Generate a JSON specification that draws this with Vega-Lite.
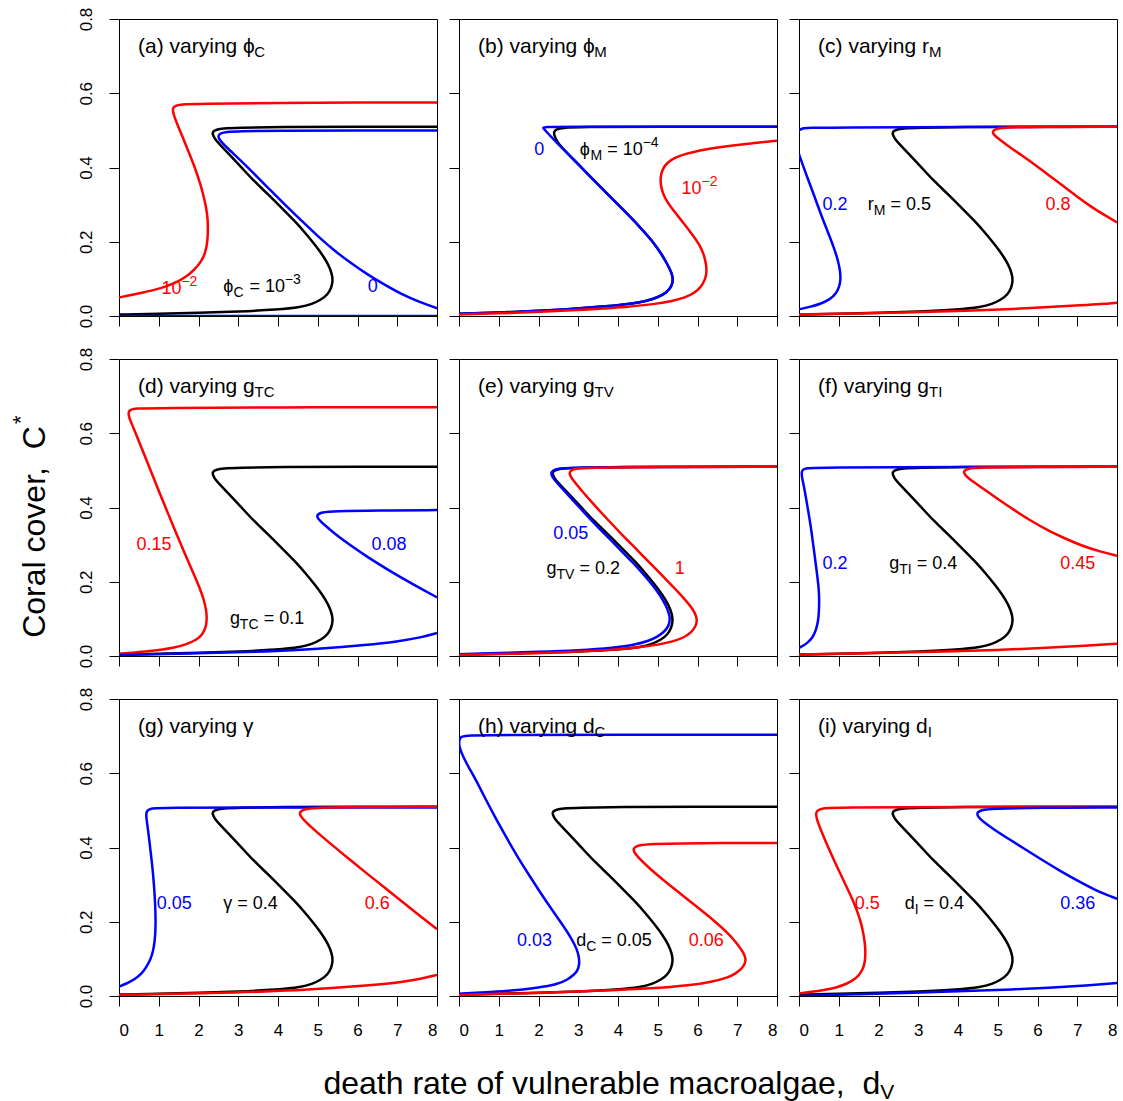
{
"$schema": "https://vega.github.io/schema/vega-lite/v6.json",
"padding": {"left": 9, "top": 6, "right": 0, "bottom": 0},
"background": "white",
"datasets": {
"base": [{"x":8,"y":0.51},{"x":6,"y":0.51},{"x":4,"y":0.509},{"x":3,"y":0.507},{"x":2.6,"y":0.505},{"x":2.45,"y":0.502},{"x":2.36,"y":0.497},{"x":2.35,"y":0.49},{"x":2.42,"y":0.475},{"x":2.6,"y":0.455},{"x":2.85,"y":0.427},{"x":3.1,"y":0.398},{"x":3.4,"y":0.363},{"x":3.75,"y":0.328},{"x":4.1,"y":0.29},{"x":4.42,"y":0.256},{"x":4.7,"y":0.222},{"x":4.92,"y":0.193},{"x":5.12,"y":0.165},{"x":5.27,"y":0.138},{"x":5.36,"y":0.113},{"x":5.38,"y":0.094},{"x":5.34,"y":0.075},{"x":5.25,"y":0.058},{"x":5.09,"y":0.044},{"x":4.85,"y":0.032},{"x":4.59,"y":0.024},{"x":4.0,"y":0.017},{"x":3.0,"y":0.012},{"x":2.0,"y":0.009},{"x":1.0,"y":0.006},{"x":0,"y":0.004}],
"a": [
{"s":"r","c":"red","x":8,"y":0.575},{"s":"r","c":"red","x":6,"y":0.575},{"s":"r","c":"red","x":4,"y":0.574},{"s":"r","c":"red","x":2,"y":0.572},{"s":"r","c":"red","x":1.55,"y":0.57},{"s":"r","c":"red","x":1.4,"y":0.566},{"s":"r","c":"red","x":1.34,"y":0.558},{"s":"r","c":"red","x":1.38,"y":0.54},{"s":"r","c":"red","x":1.47,"y":0.515},{"s":"r","c":"red","x":1.57,"y":0.49},{"s":"r","c":"red","x":1.74,"y":0.445},{"s":"r","c":"red","x":1.91,"y":0.4},{"s":"r","c":"red","x":2.05,"y":0.355},{"s":"r","c":"red","x":2.16,"y":0.31},{"s":"r","c":"red","x":2.22,"y":0.275},{"s":"r","c":"red","x":2.24,"y":0.245},{"s":"r","c":"red","x":2.23,"y":0.2},{"s":"r","c":"red","x":2.17,"y":0.17},{"s":"r","c":"red","x":2.08,"y":0.148},{"s":"r","c":"red","x":1.9,"y":0.125},{"s":"r","c":"red","x":1.66,"y":0.103},{"s":"r","c":"red","x":1.4,"y":0.088},{"s":"r","c":"red","x":1.07,"y":0.075},{"s":"r","c":"red","x":0.6,"y":0.063},{"s":"r","c":"red","x":0,"y":0.05},
{"s":"b","c":"blue","x":8,"y":0.5},{"s":"b","c":"blue","x":6,"y":0.5},{"s":"b","c":"blue","x":4,"y":0.499},{"s":"b","c":"blue","x":3,"y":0.498},{"s":"b","c":"blue","x":2.7,"y":0.496},{"s":"b","c":"blue","x":2.55,"y":0.492},{"s":"b","c":"blue","x":2.49,"y":0.486},{"s":"b","c":"blue","x":2.52,"y":0.475},{"s":"b","c":"blue","x":2.7,"y":0.455},{"s":"b","c":"blue","x":3.05,"y":0.42},{"s":"b","c":"blue","x":3.4,"y":0.383},{"s":"b","c":"blue","x":3.8,"y":0.34},{"s":"b","c":"blue","x":4.2,"y":0.297},{"s":"b","c":"blue","x":4.6,"y":0.256},{"s":"b","c":"blue","x":5,"y":0.215},{"s":"b","c":"blue","x":5.42,"y":0.176},{"s":"b","c":"blue","x":5.85,"y":0.141},{"s":"b","c":"blue","x":6.26,"y":0.111},{"s":"b","c":"blue","x":6.7,"y":0.083},{"s":"b","c":"blue","x":7.1,"y":0.059},{"s":"b","c":"blue","x":7.55,"y":0.038},{"s":"b","c":"blue","x":8,"y":0.021},
{"s":"b0","c":"blue","x":0,"y":0},{"s":"b0","c":"blue","x":8,"y":0}],
"b": [
{"s":"k","c":"black","x":8,"y":0.51},{"s":"k","c":"black","x":5,"y":0.51},{"s":"k","c":"black","x":3,"y":0.509},{"s":"k","c":"black","x":2.6,"y":0.507},{"s":"k","c":"black","x":2.45,"y":0.503},{"s":"k","c":"black","x":2.38,"y":0.496},{"s":"k","c":"black","x":2.4,"y":0.485},{"s":"k","c":"black","x":2.48,"y":0.466},{"s":"k","c":"black","x":2.75,"y":0.436},{"s":"k","c":"black","x":3.08,"y":0.4},{"s":"k","c":"black","x":3.41,"y":0.364},{"s":"k","c":"black","x":3.77,"y":0.325},{"s":"k","c":"black","x":4.17,"y":0.282},{"s":"k","c":"black","x":4.55,"y":0.24},{"s":"k","c":"black","x":4.85,"y":0.204},{"s":"k","c":"black","x":5.09,"y":0.168},{"s":"k","c":"black","x":5.25,"y":0.138},{"s":"k","c":"black","x":5.35,"y":0.116},{"s":"k","c":"black","x":5.39,"y":0.099},{"s":"k","c":"black","x":5.35,"y":0.079},{"s":"k","c":"black","x":5.22,"y":0.063},{"s":"k","c":"black","x":5.0,"y":0.05},{"s":"k","c":"black","x":4.7,"y":0.04},{"s":"k","c":"black","x":4.35,"y":0.033},{"s":"k","c":"black","x":3.7,"y":0.026},{"s":"k","c":"black","x":2.91,"y":0.019},{"s":"k","c":"black","x":2,"y":0.014},{"s":"k","c":"black","x":1,"y":0.009},{"s":"k","c":"black","x":0,"y":0.006},
{"s":"b","c":"blue","x":8,"y":0.51},{"s":"b","c":"blue","x":2.1,"y":0.51},{"s":"b","c":"blue","x":2.08,"y":0.51},{"s":"b","c":"blue","x":2.41,"y":0.472},{"s":"b","c":"blue","x":2.75,"y":0.436},{"s":"b","c":"blue","x":3.08,"y":0.4},{"s":"b","c":"blue","x":3.41,"y":0.364},{"s":"b","c":"blue","x":3.77,"y":0.325},{"s":"b","c":"blue","x":4.17,"y":0.282},{"s":"b","c":"blue","x":4.55,"y":0.24},{"s":"b","c":"blue","x":4.85,"y":0.204},{"s":"b","c":"blue","x":5.09,"y":0.168},{"s":"b","c":"blue","x":5.25,"y":0.138},{"s":"b","c":"blue","x":5.35,"y":0.116},{"s":"b","c":"blue","x":5.39,"y":0.099},{"s":"b","c":"blue","x":5.35,"y":0.079},{"s":"b","c":"blue","x":5.22,"y":0.063},{"s":"b","c":"blue","x":5.0,"y":0.05},{"s":"b","c":"blue","x":4.7,"y":0.04},{"s":"b","c":"blue","x":4.35,"y":0.033},{"s":"b","c":"blue","x":3.7,"y":0.026},{"s":"b","c":"blue","x":2.91,"y":0.019},{"s":"b","c":"blue","x":2,"y":0.014},{"s":"b","c":"blue","x":1,"y":0.009},{"s":"b","c":"blue","x":0,"y":0.006},
{"s":"r","c":"red","x":8,"y":0.472},{"s":"r","c":"red","x":7.5,"y":0.467},{"s":"r","c":"red","x":7,"y":0.461},{"s":"r","c":"red","x":6.5,"y":0.454},{"s":"r","c":"red","x":6.05,"y":0.446},{"s":"r","c":"red","x":5.7,"y":0.437},{"s":"r","c":"red","x":5.42,"y":0.426},{"s":"r","c":"red","x":5.24,"y":0.413},{"s":"r","c":"red","x":5.13,"y":0.398},{"s":"r","c":"red","x":5.07,"y":0.377},{"s":"r","c":"red","x":5.07,"y":0.355},{"s":"r","c":"red","x":5.12,"y":0.332},{"s":"r","c":"red","x":5.23,"y":0.308},{"s":"r","c":"red","x":5.42,"y":0.281},{"s":"r","c":"red","x":5.66,"y":0.249},{"s":"r","c":"red","x":5.88,"y":0.218},{"s":"r","c":"red","x":6.05,"y":0.192},{"s":"r","c":"red","x":6.16,"y":0.166},{"s":"r","c":"red","x":6.22,"y":0.139},{"s":"r","c":"red","x":6.23,"y":0.118},{"s":"r","c":"red","x":6.2,"y":0.1},{"s":"r","c":"red","x":6.09,"y":0.078},{"s":"r","c":"red","x":5.92,"y":0.062},{"s":"r","c":"red","x":5.7,"y":0.05},{"s":"r","c":"red","x":5.35,"y":0.04},{"s":"r","c":"red","x":5,"y":0.033},{"s":"r","c":"red","x":4.2,"y":0.024},{"s":"r","c":"red","x":3.33,"y":0.018},{"s":"r","c":"red","x":2,"y":0.011},{"s":"r","c":"red","x":1,"y":0.007},{"s":"r","c":"red","x":0,"y":0.004}],
"c": [
{"s":"b1","c":"blue","x":8,"y":0.51},{"s":"b1","c":"blue","x":4,"y":0.509},{"s":"b1","c":"blue","x":1,"y":0.508},{"s":"b1","c":"blue","x":0.2,"y":0.507},{"s":"b1","c":"blue","x":0.07,"y":0.505},{"s":"b1","c":"blue","x":0,"y":0.5},
{"s":"b2","c":"blue","x":0,"y":0.436},{"s":"b2","c":"blue","x":0.1,"y":0.405},{"s":"b2","c":"blue","x":0.21,"y":0.373},{"s":"b2","c":"blue","x":0.38,"y":0.325},{"s":"b2","c":"blue","x":0.55,"y":0.274},{"s":"b2","c":"blue","x":0.72,"y":0.228},{"s":"b2","c":"blue","x":0.88,"y":0.184},{"s":"b2","c":"blue","x":0.98,"y":0.15},{"s":"b2","c":"blue","x":1.03,"y":0.125},{"s":"b2","c":"blue","x":1.05,"y":0.1},{"s":"b2","c":"blue","x":1.02,"y":0.08},{"s":"b2","c":"blue","x":0.93,"y":0.06},{"s":"b2","c":"blue","x":0.78,"y":0.045},{"s":"b2","c":"blue","x":0.55,"y":0.033},{"s":"b2","c":"blue","x":0.3,"y":0.025},{"s":"b2","c":"blue","x":0,"y":0.018},
{"s":"r1","c":"red","x":8,"y":0.51},{"s":"r1","c":"red","x":6,"y":0.509},{"s":"r1","c":"red","x":5.2,"y":0.508},{"s":"r1","c":"red","x":4.98,"y":0.505},{"s":"r1","c":"red","x":4.87,"y":0.499},{"s":"r1","c":"red","x":4.88,"y":0.49},{"s":"r1","c":"red","x":5,"y":0.479},{"s":"r1","c":"red","x":5.26,"y":0.458},{"s":"r1","c":"red","x":5.6,"y":0.433},{"s":"r1","c":"red","x":5.94,"y":0.407},{"s":"r1","c":"red","x":6.3,"y":0.378},{"s":"r1","c":"red","x":6.66,"y":0.349},{"s":"r1","c":"red","x":7,"y":0.321},{"s":"r1","c":"red","x":7.35,"y":0.294},{"s":"r1","c":"red","x":7.7,"y":0.271},{"s":"r1","c":"red","x":8,"y":0.252},
{"s":"r2","c":"red","x":0,"y":0.004},{"s":"r2","c":"red","x":1.5,"y":0.007},{"s":"r2","c":"red","x":2.9,"y":0.01},{"s":"r2","c":"red","x":4.2,"y":0.014},{"s":"r2","c":"red","x":5.43,"y":0.019},{"s":"r2","c":"red","x":6.3,"y":0.024},{"s":"r2","c":"red","x":7.12,"y":0.029},{"s":"r2","c":"red","x":7.6,"y":0.032},{"s":"r2","c":"red","x":8,"y":0.036}],
"d": [
{"s":"r","c":"red","x":8,"y":0.67},{"s":"r","c":"red","x":4,"y":0.67},{"s":"r","c":"red","x":1,"y":0.668},{"s":"r","c":"red","x":0.4,"y":0.667},{"s":"r","c":"red","x":0.27,"y":0.663},{"s":"r","c":"red","x":0.23,"y":0.655},{"s":"r","c":"red","x":0.26,"y":0.64},{"s":"r","c":"red","x":0.36,"y":0.616},{"s":"r","c":"red","x":0.6,"y":0.552},{"s":"r","c":"red","x":0.82,"y":0.493},{"s":"r","c":"red","x":1.03,"y":0.437},{"s":"r","c":"red","x":1.24,"y":0.382},{"s":"r","c":"red","x":1.45,"y":0.328},{"s":"r","c":"red","x":1.66,"y":0.275},{"s":"r","c":"red","x":1.86,"y":0.226},{"s":"r","c":"red","x":2.03,"y":0.184},{"s":"r","c":"red","x":2.14,"y":0.15},{"s":"r","c":"red","x":2.2,"y":0.121},{"s":"r","c":"red","x":2.21,"y":0.1},{"s":"r","c":"red","x":2.19,"y":0.078},{"s":"r","c":"red","x":2.1,"y":0.058},{"s":"r","c":"red","x":1.95,"y":0.043},{"s":"r","c":"red","x":1.7,"y":0.032},{"s":"r","c":"red","x":1.4,"y":0.022},{"s":"r","c":"red","x":0.82,"y":0.013},{"s":"r","c":"red","x":0,"y":0.006},
{"s":"b1","c":"blue","x":8,"y":0.393},{"s":"b1","c":"blue","x":6.5,"y":0.392},{"s":"b1","c":"blue","x":5.4,"y":0.39},{"s":"b1","c":"blue","x":5.1,"y":0.387},{"s":"b1","c":"blue","x":4.97,"y":0.38},{"s":"b1","c":"blue","x":5,"y":0.37},{"s":"b1","c":"blue","x":5.15,"y":0.355},{"s":"b1","c":"blue","x":5.45,"y":0.327},{"s":"b1","c":"blue","x":5.85,"y":0.296},{"s":"b1","c":"blue","x":6.26,"y":0.266},{"s":"b1","c":"blue","x":6.68,"y":0.238},{"s":"b1","c":"blue","x":7.1,"y":0.211},{"s":"b1","c":"blue","x":7.55,"y":0.184},{"s":"b1","c":"blue","x":8,"y":0.158},
{"s":"b2","c":"blue","x":0,"y":0.003},{"s":"b2","c":"blue","x":2,"y":0.007},{"s":"b2","c":"blue","x":3.75,"y":0.012},{"s":"b2","c":"blue","x":5,"y":0.019},{"s":"b2","c":"blue","x":6.26,"y":0.03},{"s":"b2","c":"blue","x":7,"y":0.039},{"s":"b2","c":"blue","x":7.6,"y":0.05},{"s":"b2","c":"blue","x":8,"y":0.062}],
"e": [
{"s":"b","c":"blue","x":8,"y":0.51},{"s":"b","c":"blue","x":4,"y":0.509},{"s":"b","c":"blue","x":2.6,"y":0.507},{"s":"b","c":"blue","x":2.42,"y":0.503},{"s":"b","c":"blue","x":2.32,"y":0.496},{"s":"b","c":"blue","x":2.32,"y":0.488},{"s":"b","c":"blue","x":2.4,"y":0.474},{"s":"b","c":"blue","x":2.58,"y":0.453},{"s":"b","c":"blue","x":2.82,"y":0.425},{"s":"b","c":"blue","x":3.07,"y":0.396},{"s":"b","c":"blue","x":3.37,"y":0.361},{"s":"b","c":"blue","x":3.7,"y":0.325},{"s":"b","c":"blue","x":4.04,"y":0.288},{"s":"b","c":"blue","x":4.37,"y":0.252},{"s":"b","c":"blue","x":4.65,"y":0.219},{"s":"b","c":"blue","x":4.88,"y":0.19},{"s":"b","c":"blue","x":5.07,"y":0.162},{"s":"b","c":"blue","x":5.21,"y":0.135},{"s":"b","c":"blue","x":5.29,"y":0.113},{"s":"b","c":"blue","x":5.31,"y":0.097},{"s":"b","c":"blue","x":5.27,"y":0.08},{"s":"b","c":"blue","x":5.17,"y":0.066},{"s":"b","c":"blue","x":5,"y":0.052},{"s":"b","c":"blue","x":4.75,"y":0.04},{"s":"b","c":"blue","x":4.45,"y":0.031},{"s":"b","c":"blue","x":3.9,"y":0.022},{"s":"b","c":"blue","x":3,"y":0.015},{"s":"b","c":"blue","x":2,"y":0.011},{"s":"b","c":"blue","x":1,"y":0.008},{"s":"b","c":"blue","x":0,"y":0.005},
{"s":"r","c":"red","x":8,"y":0.51},{"s":"r","c":"red","x":5,"y":0.509},{"s":"r","c":"red","x":3.2,"y":0.507},{"s":"r","c":"red","x":2.92,"y":0.505},{"s":"r","c":"red","x":2.8,"y":0.499},{"s":"r","c":"red","x":2.77,"y":0.49},{"s":"r","c":"red","x":2.85,"y":0.476},{"s":"r","c":"red","x":3.08,"y":0.446},{"s":"r","c":"red","x":3.4,"y":0.407},{"s":"r","c":"red","x":3.77,"y":0.364},{"s":"r","c":"red","x":4.17,"y":0.319},{"s":"r","c":"red","x":4.59,"y":0.274},{"s":"r","c":"red","x":5,"y":0.229},{"s":"r","c":"red","x":5.4,"y":0.185},{"s":"r","c":"red","x":5.69,"y":0.152},{"s":"r","c":"red","x":5.88,"y":0.127},{"s":"r","c":"red","x":5.97,"y":0.107},{"s":"r","c":"red","x":5.99,"y":0.094},{"s":"r","c":"red","x":5.95,"y":0.079},{"s":"r","c":"red","x":5.84,"y":0.063},{"s":"r","c":"red","x":5.66,"y":0.05},{"s":"r","c":"red","x":5.42,"y":0.04},{"s":"r","c":"red","x":5,"y":0.03},{"s":"r","c":"red","x":4.59,"y":0.024},{"s":"r","c":"red","x":3.8,"y":0.016},{"s":"r","c":"red","x":2.91,"y":0.011},{"s":"r","c":"red","x":1.5,"y":0.006},{"s":"r","c":"red","x":0,"y":0.003}],
"f": [
{"s":"b","c":"blue","x":8,"y":0.51},{"s":"b","c":"blue","x":4,"y":0.509},{"s":"b","c":"blue","x":0.5,"y":0.508},{"s":"b","c":"blue","x":0.18,"y":0.506},{"s":"b","c":"blue","x":0.09,"y":0.502},{"s":"b","c":"blue","x":0.06,"y":0.494},{"s":"b","c":"blue","x":0.08,"y":0.478},{"s":"b","c":"blue","x":0.13,"y":0.455},{"s":"b","c":"blue","x":0.2,"y":0.41},{"s":"b","c":"blue","x":0.29,"y":0.355},{"s":"b","c":"blue","x":0.37,"y":0.29},{"s":"b","c":"blue","x":0.45,"y":0.225},{"s":"b","c":"blue","x":0.5,"y":0.18},{"s":"b","c":"blue","x":0.51,"y":0.148},{"s":"b","c":"blue","x":0.5,"y":0.115},{"s":"b","c":"blue","x":0.48,"y":0.094},{"s":"b","c":"blue","x":0.43,"y":0.07},{"s":"b","c":"blue","x":0.34,"y":0.049},{"s":"b","c":"blue","x":0.2,"y":0.034},{"s":"b","c":"blue","x":0.09,"y":0.027},{"s":"b","c":"blue","x":0,"y":0.022},
{"s":"r1","c":"red","x":8,"y":0.51},{"s":"r1","c":"red","x":6,"y":0.509},{"s":"r1","c":"red","x":4.5,"y":0.508},{"s":"r1","c":"red","x":4.25,"y":0.505},{"s":"r1","c":"red","x":4.14,"y":0.499},{"s":"r1","c":"red","x":4.16,"y":0.489},{"s":"r1","c":"red","x":4.3,"y":0.475},{"s":"r1","c":"red","x":4.59,"y":0.454},{"s":"r1","c":"red","x":5,"y":0.423},{"s":"r1","c":"red","x":5.43,"y":0.392},{"s":"r1","c":"red","x":5.85,"y":0.363},{"s":"r1","c":"red","x":6.27,"y":0.338},{"s":"r1","c":"red","x":6.7,"y":0.316},{"s":"r1","c":"red","x":7.12,"y":0.297},{"s":"r1","c":"red","x":7.55,"y":0.282},{"s":"r1","c":"red","x":8,"y":0.27},
{"s":"r2","c":"red","x":0,"y":0.004},{"s":"r2","c":"red","x":2,"y":0.008},{"s":"r2","c":"red","x":3.75,"y":0.012},{"s":"r2","c":"red","x":5,"y":0.016},{"s":"r2","c":"red","x":6.27,"y":0.022},{"s":"r2","c":"red","x":7.2,"y":0.028},{"s":"r2","c":"red","x":8,"y":0.033}],
"g": [
{"s":"b","c":"blue","x":8,"y":0.508},{"s":"b","c":"blue","x":4,"y":0.508},{"s":"b","c":"blue","x":1,"y":0.507},{"s":"b","c":"blue","x":0.8,"y":0.505},{"s":"b","c":"blue","x":0.7,"y":0.499},{"s":"b","c":"blue","x":0.68,"y":0.49},{"s":"b","c":"blue","x":0.7,"y":0.47},{"s":"b","c":"blue","x":0.74,"y":0.44},{"s":"b","c":"blue","x":0.8,"y":0.385},{"s":"b","c":"blue","x":0.86,"y":0.328},{"s":"b","c":"blue","x":0.9,"y":0.27},{"s":"b","c":"blue","x":0.92,"y":0.22},{"s":"b","c":"blue","x":0.92,"y":0.18},{"s":"b","c":"blue","x":0.9,"y":0.148},{"s":"b","c":"blue","x":0.86,"y":0.122},{"s":"b","c":"blue","x":0.8,"y":0.1},{"s":"b","c":"blue","x":0.7,"y":0.08},{"s":"b","c":"blue","x":0.57,"y":0.06},{"s":"b","c":"blue","x":0.4,"y":0.045},{"s":"b","c":"blue","x":0.2,"y":0.034},{"s":"b","c":"blue","x":0,"y":0.025},
{"s":"r1","c":"red","x":8,"y":0.51},{"s":"r1","c":"red","x":6,"y":0.509},{"s":"r1","c":"red","x":4.9,"y":0.507},{"s":"r1","c":"red","x":4.64,"y":0.503},{"s":"r1","c":"red","x":4.54,"y":0.495},{"s":"r1","c":"red","x":4.56,"y":0.485},{"s":"r1","c":"red","x":4.7,"y":0.468},{"s":"r1","c":"red","x":4.95,"y":0.444},{"s":"r1","c":"red","x":5.38,"y":0.405},{"s":"r1","c":"red","x":5.82,"y":0.366},{"s":"r1","c":"red","x":6.26,"y":0.328},{"s":"r1","c":"red","x":6.68,"y":0.292},{"s":"r1","c":"red","x":7.1,"y":0.256},{"s":"r1","c":"red","x":7.53,"y":0.219},{"s":"r1","c":"red","x":8,"y":0.18},
{"s":"r2","c":"red","x":0,"y":0.003},{"s":"r2","c":"red","x":1.5,"y":0.006},{"s":"r2","c":"red","x":2.91,"y":0.009},{"s":"r2","c":"red","x":4.2,"y":0.014},{"s":"r2","c":"red","x":5.42,"y":0.022},{"s":"r2","c":"red","x":6.3,"y":0.029},{"s":"r2","c":"red","x":7.1,"y":0.037},{"s":"r2","c":"red","x":7.6,"y":0.046},{"s":"r2","c":"red","x":8,"y":0.057}],
"h": [
{"s":"b","c":"blue","x":8,"y":0.704},{"s":"b","c":"blue","x":4,"y":0.704},{"s":"b","c":"blue","x":1,"y":0.703},{"s":"b","c":"blue","x":0.2,"y":0.702},{"s":"b","c":"blue","x":0.07,"y":0.699},{"s":"b","c":"blue","x":0.01,"y":0.692},{"s":"b","c":"blue","x":0,"y":0.68},{"s":"b","c":"blue","x":0.02,"y":0.667},{"s":"b","c":"blue","x":0.1,"y":0.645},{"s":"b","c":"blue","x":0.25,"y":0.615},{"s":"b","c":"blue","x":0.4,"y":0.587},{"s":"b","c":"blue","x":0.6,"y":0.545},{"s":"b","c":"blue","x":0.83,"y":0.497},{"s":"b","c":"blue","x":1.15,"y":0.435},{"s":"b","c":"blue","x":1.47,"y":0.375},{"s":"b","c":"blue","x":1.78,"y":0.323},{"s":"b","c":"blue","x":2.08,"y":0.273},{"s":"b","c":"blue","x":2.38,"y":0.226},{"s":"b","c":"blue","x":2.65,"y":0.185},{"s":"b","c":"blue","x":2.84,"y":0.153},{"s":"b","c":"blue","x":2.96,"y":0.128},{"s":"b","c":"blue","x":3.02,"y":0.105},{"s":"b","c":"blue","x":3.03,"y":0.085},{"s":"b","c":"blue","x":2.98,"y":0.068},{"s":"b","c":"blue","x":2.9,"y":0.058},{"s":"b","c":"blue","x":2.72,"y":0.043},{"s":"b","c":"blue","x":2.49,"y":0.032},{"s":"b","c":"blue","x":2,"y":0.022},{"s":"b","c":"blue","x":1.23,"y":0.013},{"s":"b","c":"blue","x":0.5,"y":0.009},{"s":"b","c":"blue","x":0,"y":0.006},
{"s":"r","c":"red","x":8,"y":0.412},{"s":"r","c":"red","x":6,"y":0.412},{"s":"r","c":"red","x":4.8,"y":0.41},{"s":"r","c":"red","x":4.5,"y":0.406},{"s":"r","c":"red","x":4.38,"y":0.398},{"s":"r","c":"red","x":4.4,"y":0.388},{"s":"r","c":"red","x":4.5,"y":0.374},{"s":"r","c":"red","x":4.75,"y":0.348},{"s":"r","c":"red","x":5.15,"y":0.311},{"s":"r","c":"red","x":5.58,"y":0.275},{"s":"r","c":"red","x":6,"y":0.239},{"s":"r","c":"red","x":6.42,"y":0.203},{"s":"r","c":"red","x":6.76,"y":0.17},{"s":"r","c":"red","x":7.01,"y":0.14},{"s":"r","c":"red","x":7.16,"y":0.116},{"s":"r","c":"red","x":7.22,"y":0.1},{"s":"r","c":"red","x":7.19,"y":0.085},{"s":"r","c":"red","x":7.1,"y":0.072},{"s":"r","c":"red","x":6.95,"y":0.06},{"s":"r","c":"red","x":6.77,"y":0.05},{"s":"r","c":"red","x":6.35,"y":0.038},{"s":"r","c":"red","x":5.84,"y":0.029},{"s":"r","c":"red","x":4.8,"y":0.02},{"s":"r","c":"red","x":3.74,"y":0.015},{"s":"r","c":"red","x":2,"y":0.008},{"s":"r","c":"red","x":0,"y":0.003}],
"i": [
{"s":"r","c":"red","x":8,"y":0.51},{"s":"r","c":"red","x":4,"y":0.509},{"s":"r","c":"red","x":0.9,"y":0.508},{"s":"r","c":"red","x":0.58,"y":0.506},{"s":"r","c":"red","x":0.46,"y":0.5},{"s":"r","c":"red","x":0.42,"y":0.492},{"s":"r","c":"red","x":0.45,"y":0.475},{"s":"r","c":"red","x":0.55,"y":0.447},{"s":"r","c":"red","x":0.75,"y":0.396},{"s":"r","c":"red","x":0.96,"y":0.347},{"s":"r","c":"red","x":1.17,"y":0.3},{"s":"r","c":"red","x":1.37,"y":0.255},{"s":"r","c":"red","x":1.53,"y":0.21},{"s":"r","c":"red","x":1.63,"y":0.166},{"s":"r","c":"red","x":1.67,"y":0.13},{"s":"r","c":"red","x":1.67,"y":0.103},{"s":"r","c":"red","x":1.64,"y":0.082},{"s":"r","c":"red","x":1.57,"y":0.065},{"s":"r","c":"red","x":1.45,"y":0.048},{"s":"r","c":"red","x":1.21,"y":0.033},{"s":"r","c":"red","x":0.93,"y":0.022},{"s":"r","c":"red","x":0.63,"y":0.016},{"s":"r","c":"red","x":0.3,"y":0.011},{"s":"r","c":"red","x":0,"y":0.007},
{"s":"b1","c":"blue","x":8,"y":0.508},{"s":"b1","c":"blue","x":6,"y":0.507},{"s":"b1","c":"blue","x":4.85,"y":0.505},{"s":"b1","c":"blue","x":4.58,"y":0.501},{"s":"b1","c":"blue","x":4.47,"y":0.494},{"s":"b1","c":"blue","x":4.5,"y":0.483},{"s":"b1","c":"blue","x":4.65,"y":0.468},{"s":"b1","c":"blue","x":4.9,"y":0.449},{"s":"b1","c":"blue","x":5.32,"y":0.42},{"s":"b1","c":"blue","x":5.74,"y":0.392},{"s":"b1","c":"blue","x":6.15,"y":0.364},{"s":"b1","c":"blue","x":6.57,"y":0.337},{"s":"b1","c":"blue","x":7,"y":0.311},{"s":"b1","c":"blue","x":7.41,"y":0.288},{"s":"b1","c":"blue","x":7.7,"y":0.274},{"s":"b1","c":"blue","x":8,"y":0.262},
{"s":"b2","c":"blue","x":0,"y":0},{"s":"b2","c":"blue","x":1.5,"y":0.005},{"s":"b2","c":"blue","x":2.89,"y":0.009},{"s":"b2","c":"blue","x":4.2,"y":0.013},{"s":"b2","c":"blue","x":5.4,"y":0.018},{"s":"b2","c":"blue","x":6.3,"y":0.022},{"s":"b2","c":"blue","x":7.08,"y":0.027},{"s":"b2","c":"blue","x":8,"y":0.035}],
"lab": [
{"p":"a","t":"(a) varying ϕ","k":"T","c":"black","x":0.48,"y":0.709},{"p":"a","t":"C","k":"Ts","c":"black","x":3.4,"y":0.698},
{"p":"a","t":"10","k":"m","c":"red","x":1.07,"y":0.058},{"p":"a","t":"−2","k":"s","c":"red","x":1.57,"y":0.08},
{"p":"a","t":"ϕ","k":"m","c":"black","x":2.62,"y":0.065},{"p":"a","t":"C","k":"s","c":"black","x":2.88,"y":0.052},{"p":"a","t":"= 10","k":"m","c":"black","x":3.28,"y":0.065},{"p":"a","t":"−3","k":"s","c":"black","x":4.17,"y":0.087},
{"p":"a","t":"0","k":"m","c":"blue","x":6.26,"y":0.065},
{"p":"b","t":"(b) varying ϕ","k":"T","c":"black","x":0.48,"y":0.709},{"p":"b","t":"M","k":"Ts","c":"black","x":3.4,"y":0.698},
{"p":"b","t":"0","k":"m","c":"blue","x":1.89,"y":0.434},
{"p":"b","t":"ϕ","k":"m","c":"black","x":3.04,"y":0.434},{"p":"b","t":"M","k":"s","c":"black","x":3.31,"y":0.4205},{"p":"b","t":"= 10","k":"m","c":"black","x":3.73,"y":0.434},{"p":"b","t":"−4","k":"s","c":"black","x":4.62,"y":0.4555},
{"p":"b","t":"10","k":"m","c":"red","x":5.6,"y":0.328},{"p":"b","t":"−2","k":"s","c":"red","x":6.1,"y":0.3495},
{"p":"c","t":"(c) varying r","k":"T","c":"black","x":0.48,"y":0.709},{"p":"c","t":"M","k":"Ts","c":"black","x":3.27,"y":0.698},
{"p":"c","t":"0.2","k":"m","c":"blue","x":0.59,"y":0.285},
{"p":"c","t":"r","k":"m","c":"black","x":1.73,"y":0.285},{"p":"c","t":"M","k":"s","c":"black","x":1.88,"y":0.2715},{"p":"c","t":"= 0.5","k":"m","c":"black","x":2.3,"y":0.285},
{"p":"c","t":"0.8","k":"m","c":"red","x":6.2,"y":0.285},
{"p":"d","t":"(d) varying g","k":"T","c":"black","x":0.48,"y":0.709},{"p":"d","t":"TC","k":"Ts","c":"black","x":3.41,"y":0.698},
{"p":"d","t":"0.15","k":"m","c":"red","x":0.44,"y":0.285},
{"p":"d","t":"g","k":"m","c":"black","x":2.79,"y":0.085},{"p":"d","t":"TC","k":"s","c":"black","x":3.04,"y":0.0715},{"p":"d","t":"= 0.1","k":"m","c":"black","x":3.64,"y":0.085},
{"p":"d","t":"0.08","k":"m","c":"blue","x":6.35,"y":0.285},
{"p":"e","t":"(e) varying g","k":"T","c":"black","x":0.48,"y":0.709},{"p":"e","t":"TV","k":"Ts","c":"black","x":3.41,"y":0.698},
{"p":"e","t":"0.05","k":"m","c":"blue","x":2.37,"y":0.314},
{"p":"e","t":"g","k":"m","c":"black","x":2.2,"y":0.22},{"p":"e","t":"TV","k":"s","c":"black","x":2.45,"y":0.2065},{"p":"e","t":"= 0.2","k":"m","c":"black","x":3.03,"y":0.22},
{"p":"e","t":"1","k":"m","c":"red","x":5.43,"y":0.22},
{"p":"f","t":"(f) varying g","k":"T","c":"black","x":0.48,"y":0.709},{"p":"f","t":"TI","k":"Ts","c":"black","x":3.27,"y":0.698},
{"p":"f","t":"0.2","k":"m","c":"blue","x":0.59,"y":0.234},
{"p":"f","t":"g","k":"m","c":"black","x":2.27,"y":0.234},{"p":"f","t":"TI","k":"s","c":"black","x":2.52,"y":0.2205},{"p":"f","t":"= 0.4","k":"m","c":"black","x":2.96,"y":0.234},
{"p":"f","t":"0.45","k":"m","c":"red","x":6.57,"y":0.234},
{"p":"g","t":"(g) varying γ","k":"T","c":"black","x":0.48,"y":0.709},
{"p":"g","t":"0.05","k":"m","c":"blue","x":0.95,"y":0.234},
{"p":"g","t":"γ = 0.4","k":"m","c":"black","x":2.62,"y":0.234},
{"p":"g","t":"0.6","k":"m","c":"red","x":6.18,"y":0.234},
{"p":"h","t":"(h) varying d","k":"T","c":"black","x":0.48,"y":0.709},{"p":"h","t":"C","k":"Ts","c":"black","x":3.41,"y":0.698},
{"p":"h","t":"0.03","k":"m","c":"blue","x":1.46,"y":0.135},
{"p":"h","t":"d","k":"m","c":"black","x":2.95,"y":0.135},{"p":"h","t":"C","k":"s","c":"black","x":3.2,"y":0.1215},{"p":"h","t":"= 0.05","k":"m","c":"black","x":3.58,"y":0.135},
{"p":"h","t":"0.06","k":"m","c":"red","x":5.78,"y":0.135},
{"p":"h","t":"death rate of vulnerable macroalgae,\u00a0 d","k":"X","c":"black","x":-3.41,"y":-0.264},{"p":"h","t":"V","k":"Xs","c":"black","x":10.6,"y":-0.277},
{"p":"i","t":"(i) varying d","k":"T","c":"black","x":0.48,"y":0.709},{"p":"i","t":"I","k":"Ts","c":"black","x":3.24,"y":0.698},
{"p":"i","t":"0.5","k":"m","c":"red","x":1.4,"y":0.234},
{"p":"i","t":"d","k":"m","c":"black","x":2.66,"y":0.234},{"p":"i","t":"I","k":"s","c":"black","x":2.91,"y":0.2205},{"p":"i","t":"= 0.4","k":"m","c":"black","x":3.13,"y":0.234},
{"p":"i","t":"0.36","k":"m","c":"blue","x":6.57,"y":0.234},
{"p":"Y","t":"Coral cover,\u00a0 C","k":"Y","c":"black","x":-1.87,"y":0.049},{"p":"Y","t":"*","k":"Ys","c":"black","x":-2.28,"y":0.625}
]
},
"columns": 3,
"spacing": {"row": 43, "column": 22},
"bounds": "flush",
"concat": [
{"width":318,"height":297,
 "encoding":{"x":{"field":"x","type":"quantitative","scale":{"domain":[0,8],"nice":false,"zero":false},"axis":{"values":[0,1,2,3,4,5,6,7,8],"labels":false,"title":null}},
 "y":{"field":"y","type":"quantitative","scale":{"domain":[0,0.8],"nice":false,"zero":false},"axis":{"values":[0,0.2,0.4,0.6,0.8],"format":".1f","title":null}}},
 "layer":[
 {"data":{"name":"base"},"mark":{"type":"line","color":"#000000","strokeWidth":2.5,"clip":true,"interpolate":"basis"},"encoding":{"order":{"value":null}}},
 {"data":{"name":"a"},"mark":{"type":"line","strokeWidth":2.5,"clip":true,"interpolate":"basis"},"encoding":{"color":{"field":"c","type":"nominal","scale":{"domain":["black","blue","red"],"range":["#000000","#0000ff","#ff0000"]},"legend":null},"detail":{"field":"s"},"order":{"value":null}}},
 {"data":{"name":"lab"},"transform":[{"filter":"datum.p==='a'"}],"mark":{"type":"text","align":"left","baseline":"alphabetic"},"encoding":{"text":{"field":"t"},"color":{"field":"c","type":"nominal","scale":{"domain":["black","blue","red"],"range":["#000000","#0000ff","#ff0000"]},"legend":null},"size":{"field":"k","type":"nominal","scale":{"type":"ordinal","domain":["T","Ts","m","s","X","Xs","Y","Ys"],"range":[21,15,18,14,32,21,32,22]},"legend":null}}}
 ]},
{"width":318,"height":297,
 "encoding":{"x":{"field":"x","type":"quantitative","scale":{"domain":[0,8],"nice":false,"zero":false},"axis":{"values":[0,1,2,3,4,5,6,7,8],"labels":false,"title":null}},
 "y":{"field":"y","type":"quantitative","scale":{"domain":[0,0.8],"nice":false,"zero":false},"axis":{"values":[0,0.2,0.4,0.6,0.8],"labels":false,"title":null}}},
 "layer":[
 {"data":{"name":"b"},"mark":{"type":"line","strokeWidth":2.5,"clip":true,"interpolate":"basis"},"encoding":{"color":{"field":"c","type":"nominal","scale":{"domain":["black","blue","red"],"range":["#000000","#0000ff","#ff0000"]},"legend":null},"detail":{"field":"s"},"order":{"value":null}}},
 {"data":{"name":"lab"},"transform":[{"filter":"datum.p==='b'"}],"mark":{"type":"text","align":"left","baseline":"alphabetic"},"encoding":{"text":{"field":"t"},"color":{"field":"c","type":"nominal","scale":{"domain":["black","blue","red"],"range":["#000000","#0000ff","#ff0000"]},"legend":null},"size":{"field":"k","type":"nominal","scale":{"type":"ordinal","domain":["T","Ts","m","s","X","Xs","Y","Ys"],"range":[21,15,18,14,32,21,32,22]},"legend":null}}}
 ]},
{"width":318,"height":297,
 "encoding":{"x":{"field":"x","type":"quantitative","scale":{"domain":[0,8],"nice":false,"zero":false},"axis":{"values":[0,1,2,3,4,5,6,7,8],"labels":false,"title":null}},
 "y":{"field":"y","type":"quantitative","scale":{"domain":[0,0.8],"nice":false,"zero":false},"axis":{"values":[0,0.2,0.4,0.6,0.8],"labels":false,"title":null}}},
 "layer":[
 {"data":{"name":"base"},"mark":{"type":"line","color":"#000000","strokeWidth":2.5,"clip":true,"interpolate":"basis"},"encoding":{"order":{"value":null}}},
 {"data":{"name":"c"},"mark":{"type":"line","strokeWidth":2.5,"clip":true,"interpolate":"basis"},"encoding":{"color":{"field":"c","type":"nominal","scale":{"domain":["black","blue","red"],"range":["#000000","#0000ff","#ff0000"]},"legend":null},"detail":{"field":"s"},"order":{"value":null}}},
 {"data":{"name":"lab"},"transform":[{"filter":"datum.p==='c'"}],"mark":{"type":"text","align":"left","baseline":"alphabetic"},"encoding":{"text":{"field":"t"},"color":{"field":"c","type":"nominal","scale":{"domain":["black","blue","red"],"range":["#000000","#0000ff","#ff0000"]},"legend":null},"size":{"field":"k","type":"nominal","scale":{"type":"ordinal","domain":["T","Ts","m","s","X","Xs","Y","Ys"],"range":[21,15,18,14,32,21,32,22]},"legend":null}}}
 ]},
{"width":318,"height":297,
 "encoding":{"x":{"field":"x","type":"quantitative","scale":{"domain":[0,8],"nice":false,"zero":false},"axis":{"values":[0,1,2,3,4,5,6,7,8],"labels":false,"title":null}},
 "y":{"field":"y","type":"quantitative","scale":{"domain":[0,0.8],"nice":false,"zero":false},"axis":{"values":[0,0.2,0.4,0.6,0.8],"format":".1f","title":null}}},
 "layer":[
 {"data":{"name":"base"},"mark":{"type":"line","color":"#000000","strokeWidth":2.5,"clip":true,"interpolate":"basis"},"encoding":{"order":{"value":null}}},
 {"data":{"name":"d"},"mark":{"type":"line","strokeWidth":2.5,"clip":true,"interpolate":"basis"},"encoding":{"color":{"field":"c","type":"nominal","scale":{"domain":["black","blue","red"],"range":["#000000","#0000ff","#ff0000"]},"legend":null},"detail":{"field":"s"},"order":{"value":null}}},
 {"data":{"name":"lab"},"transform":[{"filter":"datum.p==='d'"}],"mark":{"type":"text","align":"left","baseline":"alphabetic"},"encoding":{"text":{"field":"t"},"color":{"field":"c","type":"nominal","scale":{"domain":["black","blue","red"],"range":["#000000","#0000ff","#ff0000"]},"legend":null},"size":{"field":"k","type":"nominal","scale":{"type":"ordinal","domain":["T","Ts","m","s","X","Xs","Y","Ys"],"range":[21,15,18,14,32,21,32,22]},"legend":null}}},
 {"data":{"name":"lab"},"transform":[{"filter":"datum.p==='Y'"}],"mark":{"type":"text","align":"left","baseline":"alphabetic","angle":270},"encoding":{"text":{"field":"t"},"color":{"field":"c","type":"nominal","scale":{"domain":["black","blue","red"],"range":["#000000","#0000ff","#ff0000"]},"legend":null},"size":{"field":"k","type":"nominal","scale":{"type":"ordinal","domain":["T","Ts","m","s","X","Xs","Y","Ys"],"range":[21,15,18,14,32,21,32,22]},"legend":null}}}
 ]},
{"width":318,"height":297,
 "encoding":{"x":{"field":"x","type":"quantitative","scale":{"domain":[0,8],"nice":false,"zero":false},"axis":{"values":[0,1,2,3,4,5,6,7,8],"labels":false,"title":null}},
 "y":{"field":"y","type":"quantitative","scale":{"domain":[0,0.8],"nice":false,"zero":false},"axis":{"values":[0,0.2,0.4,0.6,0.8],"labels":false,"title":null}}},
 "layer":[
 {"data":{"name":"base"},"mark":{"type":"line","color":"#000000","strokeWidth":2.5,"clip":true,"interpolate":"basis"},"encoding":{"order":{"value":null}}},
 {"data":{"name":"e"},"mark":{"type":"line","strokeWidth":2.5,"clip":true,"interpolate":"basis"},"encoding":{"color":{"field":"c","type":"nominal","scale":{"domain":["black","blue","red"],"range":["#000000","#0000ff","#ff0000"]},"legend":null},"detail":{"field":"s"},"order":{"value":null}}},
 {"data":{"name":"lab"},"transform":[{"filter":"datum.p==='e'"}],"mark":{"type":"text","align":"left","baseline":"alphabetic"},"encoding":{"text":{"field":"t"},"color":{"field":"c","type":"nominal","scale":{"domain":["black","blue","red"],"range":["#000000","#0000ff","#ff0000"]},"legend":null},"size":{"field":"k","type":"nominal","scale":{"type":"ordinal","domain":["T","Ts","m","s","X","Xs","Y","Ys"],"range":[21,15,18,14,32,21,32,22]},"legend":null}}}
 ]},
{"width":318,"height":297,
 "encoding":{"x":{"field":"x","type":"quantitative","scale":{"domain":[0,8],"nice":false,"zero":false},"axis":{"values":[0,1,2,3,4,5,6,7,8],"labels":false,"title":null}},
 "y":{"field":"y","type":"quantitative","scale":{"domain":[0,0.8],"nice":false,"zero":false},"axis":{"values":[0,0.2,0.4,0.6,0.8],"labels":false,"title":null}}},
 "layer":[
 {"data":{"name":"base"},"mark":{"type":"line","color":"#000000","strokeWidth":2.5,"clip":true,"interpolate":"basis"},"encoding":{"order":{"value":null}}},
 {"data":{"name":"f"},"mark":{"type":"line","strokeWidth":2.5,"clip":true,"interpolate":"basis"},"encoding":{"color":{"field":"c","type":"nominal","scale":{"domain":["black","blue","red"],"range":["#000000","#0000ff","#ff0000"]},"legend":null},"detail":{"field":"s"},"order":{"value":null}}},
 {"data":{"name":"lab"},"transform":[{"filter":"datum.p==='f'"}],"mark":{"type":"text","align":"left","baseline":"alphabetic"},"encoding":{"text":{"field":"t"},"color":{"field":"c","type":"nominal","scale":{"domain":["black","blue","red"],"range":["#000000","#0000ff","#ff0000"]},"legend":null},"size":{"field":"k","type":"nominal","scale":{"type":"ordinal","domain":["T","Ts","m","s","X","Xs","Y","Ys"],"range":[21,15,18,14,32,21,32,22]},"legend":null}}}
 ]},
{"width":318,"height":297,
 "encoding":{"x":{"field":"x","type":"quantitative","scale":{"domain":[0,8],"nice":false,"zero":false},"axis":{"values":[0,1,2,3,4,5,6,7,8],"format":"d","title":null}},
 "y":{"field":"y","type":"quantitative","scale":{"domain":[0,0.8],"nice":false,"zero":false},"axis":{"values":[0,0.2,0.4,0.6,0.8],"format":".1f","title":null}}},
 "layer":[
 {"data":{"name":"base"},"mark":{"type":"line","color":"#000000","strokeWidth":2.5,"clip":true,"interpolate":"basis"},"encoding":{"order":{"value":null}}},
 {"data":{"name":"g"},"mark":{"type":"line","strokeWidth":2.5,"clip":true,"interpolate":"basis"},"encoding":{"color":{"field":"c","type":"nominal","scale":{"domain":["black","blue","red"],"range":["#000000","#0000ff","#ff0000"]},"legend":null},"detail":{"field":"s"},"order":{"value":null}}},
 {"data":{"name":"lab"},"transform":[{"filter":"datum.p==='g'"}],"mark":{"type":"text","align":"left","baseline":"alphabetic"},"encoding":{"text":{"field":"t"},"color":{"field":"c","type":"nominal","scale":{"domain":["black","blue","red"],"range":["#000000","#0000ff","#ff0000"]},"legend":null},"size":{"field":"k","type":"nominal","scale":{"type":"ordinal","domain":["T","Ts","m","s","X","Xs","Y","Ys"],"range":[21,15,18,14,32,21,32,22]},"legend":null}}}
 ]},
{"width":318,"height":297,
 "encoding":{"x":{"field":"x","type":"quantitative","scale":{"domain":[0,8],"nice":false,"zero":false},"axis":{"values":[0,1,2,3,4,5,6,7,8],"format":"d","title":null}},
 "y":{"field":"y","type":"quantitative","scale":{"domain":[0,0.8],"nice":false,"zero":false},"axis":{"values":[0,0.2,0.4,0.6,0.8],"labels":false,"title":null}}},
 "layer":[
 {"data":{"name":"base"},"mark":{"type":"line","color":"#000000","strokeWidth":2.5,"clip":true,"interpolate":"basis"},"encoding":{"order":{"value":null}}},
 {"data":{"name":"h"},"mark":{"type":"line","strokeWidth":2.5,"clip":true,"interpolate":"basis"},"encoding":{"color":{"field":"c","type":"nominal","scale":{"domain":["black","blue","red"],"range":["#000000","#0000ff","#ff0000"]},"legend":null},"detail":{"field":"s"},"order":{"value":null}}},
 {"data":{"name":"lab"},"transform":[{"filter":"datum.p==='h'"}],"mark":{"type":"text","align":"left","baseline":"alphabetic"},"encoding":{"text":{"field":"t"},"color":{"field":"c","type":"nominal","scale":{"domain":["black","blue","red"],"range":["#000000","#0000ff","#ff0000"]},"legend":null},"size":{"field":"k","type":"nominal","scale":{"type":"ordinal","domain":["T","Ts","m","s","X","Xs","Y","Ys"],"range":[21,15,18,14,32,21,32,22]},"legend":null}}}
 ]},
{"width":318,"height":297,
 "encoding":{"x":{"field":"x","type":"quantitative","scale":{"domain":[0,8],"nice":false,"zero":false},"axis":{"values":[0,1,2,3,4,5,6,7,8],"format":"d","title":null}},
 "y":{"field":"y","type":"quantitative","scale":{"domain":[0,0.8],"nice":false,"zero":false},"axis":{"values":[0,0.2,0.4,0.6,0.8],"labels":false,"title":null}}},
 "layer":[
 {"data":{"name":"base"},"mark":{"type":"line","color":"#000000","strokeWidth":2.5,"clip":true,"interpolate":"basis"},"encoding":{"order":{"value":null}}},
 {"data":{"name":"i"},"mark":{"type":"line","strokeWidth":2.5,"clip":true,"interpolate":"basis"},"encoding":{"color":{"field":"c","type":"nominal","scale":{"domain":["black","blue","red"],"range":["#000000","#0000ff","#ff0000"]},"legend":null},"detail":{"field":"s"},"order":{"value":null}}},
 {"data":{"name":"lab"},"transform":[{"filter":"datum.p==='i'"}],"mark":{"type":"text","align":"left","baseline":"alphabetic"},"encoding":{"text":{"field":"t"},"color":{"field":"c","type":"nominal","scale":{"domain":["black","blue","red"],"range":["#000000","#0000ff","#ff0000"]},"legend":null},"size":{"field":"k","type":"nominal","scale":{"type":"ordinal","domain":["T","Ts","m","s","X","Xs","Y","Ys"],"range":[21,15,18,14,32,21,32,22]},"legend":null}}}
 ]}
],
"config": {
 "font": "Liberation Sans",
 "view": {"stroke": "#000000", "strokeWidth": 1},
 "axis": {"domain": false, "grid": false, "ticks": true, "tickColor": "#000000", "tickSize": 10, "tickWidth": 1, "labelFont": "Liberation Sans", "labelFontSize": 17, "labelColor": "#000000"},
 "axisY": {"labelAngle": 270, "labelAlign": "center", "labelBaseline": "bottom", "labelPadding": 14},
 "axisX": {"labelPadding": 16},
 "text": {"font": "Liberation Sans"}
}
}
